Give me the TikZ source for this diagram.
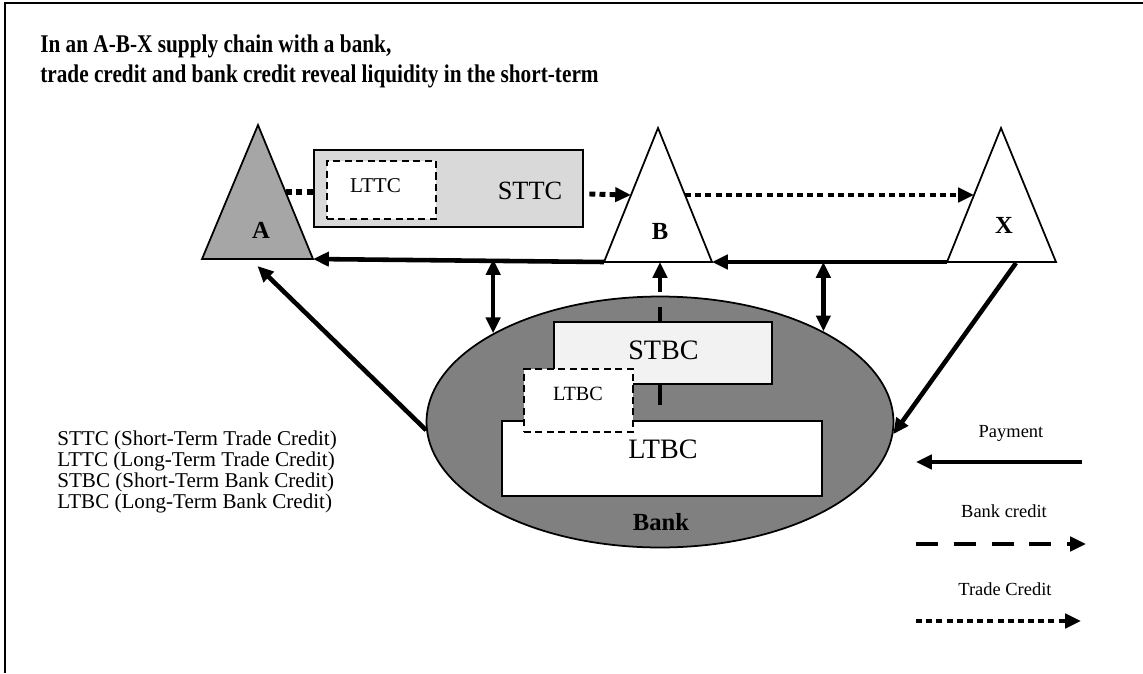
\documentclass[tikz,border=0pt]{standalone}
\usepackage{fontspec}
\setmainfont{Liberation Serif}
\usetikzlibrary{arrows.meta,shapes.geometric,calc,positioning}

\definecolor{supgray}{HTML}{A6A6A6}
\definecolor{sttcgray}{HTML}{D9D9D9}
\definecolor{bankgray}{HTML}{808080}
\definecolor{stbcgray}{HTML}{F2F2F2}

\tikzset{
  supplier/.style={draw, line width=1pt, line join=miter},
  creditbox/.style={draw, line width=1.2pt, inner sep=0pt},
  ltbox/.style={creditbox, fill=white, dashed, dash pattern=on 4pt off 2.5pt},
  boxlabel/.style={inner sep=0pt, font=\fontsize{15}{15}\selectfont},
  smalllabel/.style={inner sep=0pt, font=\fontsize{12}{12}\selectfont},
  keylabel/.style={inner sep=0pt, anchor=base, font=\fontsize{10.5}{10.5}\selectfont},
  firmlabel/.style={inner sep=0pt, font=\fontsize{14}{14}\selectfont\bfseries},
  payment/.style={line width=2.6pt, -{Triangle[length=9pt,width=8pt]}},
  payboth/.style={line width=2.6pt, {Triangle[length=9pt,width=8pt]}-{Triangle[length=9pt,width=8pt]}},
  tradecredit/.style={line width=2.8pt, dash pattern=on 3.4pt off 2.4pt, -{Triangle[length=9pt,width=8pt]}},
  bankcredit/.style={line width=2.8pt, dash pattern=on 12.5pt off 9pt, -{Triangle[length=9pt,width=8pt]}},
}

\begin{document}
\begin{tikzpicture}[x=0.02cm, y=-0.02cm]
\useasboundingbox (0,0) rectangle (1143,673);
\draw[line width=1.2pt] (5,673) -- (5,3) -- (1143,3);

% title
\node[anchor=base west, inner sep=0pt, align=left, xscale=0.835,
      font=\fontsize{14.5}{17}\selectfont\bfseries] (title) at (40,82)
  {In an A-B-X supply chain with a bank,\\
   trade credit and bank credit reveal liquidity in the short-term};

% supply chain firms
\coordinate (A-top) at (258,125);
\coordinate (A-left) at (202,259);
\coordinate (A-right) at (313,259);
\coordinate (B-top) at (658,128);
\coordinate (B-left) at (604,262);
\coordinate (B-right) at (712,262);
\coordinate (X-top) at (1001,128);
\coordinate (X-left) at (947,262);
\coordinate (X-right) at (1056,262);
\draw[supplier, fill=supgray] (A-left) -- (A-top) -- (A-right) -- cycle;
\draw[supplier, fill=white] (B-left) -- (B-top) -- (B-right) -- cycle;
\draw[supplier, fill=white] (X-left) -- (X-top) -- (X-right) -- cycle;
\node[firmlabel] (A) at (261,230) {A};
\node[firmlabel] (B) at (660,231) {B};
\node[firmlabel] (X) at (1004,225) {X};

% trade credit between firms
\node[creditbox, fill=sttcgray, minimum width=5.38cm, minimum height=1.54cm] (sttc) at (448.5,188.5) {};
\node[ltbox, minimum width=2.18cm, minimum height=1.16cm] (lttc) at (381.5,190) {};
\node[smalllabel] (lttc-text) at (375.5,185.5) {LTTC};
\node[boxlabel] (sttc-text) at (530,190.5) {STTC};

\coordinate (A-side) at ($(A-top)!0.5!(A-right)$);
\draw[line width=3pt, dash pattern=on 3.6pt off 2.4pt] (A-side) -- (A-side -| sttc.west);
\draw[tradecredit] ([xshift=3pt]sttc.east |- 0,194) -- ($(B-top)!0.5!(B-left)$);
\draw[tradecredit] ($(B-top)!0.5!(B-right)$) -- ($(X-top)!0.5!(X-left)$);

% payments along the chain
\draw[payment] (X-left) -- (B-right);
\draw[payment] (B-left) -- (A-right);

% bank
\node[ellipse, draw, line width=1pt, fill=bankgray, minimum width=9.34cm, minimum height=5.02cm] (bank) at (660,422) {};
\coordinate (bc-start) at (660,405);
\draw[bankcredit] (bc-start) -- (bc-start |- B-left);
\node[creditbox, fill=stbcgray, minimum width=4.36cm, minimum height=1.24cm] (stbc) at (663,353) {};
\node[creditbox, fill=white, minimum width=6.4cm, minimum height=1.5cm] (ltbc) at (662,458.5) {};
\node[ltbox, minimum width=2.18cm, minimum height=1.26cm] (ltbc-short) at (578.5,400.5) {};
\node[boxlabel, font=\fontsize{16}{16}\selectfont] (stbc-text) at (663.5,350) {STBC};
\node[boxlabel, font=\fontsize{16}{16}\selectfont] (ltbc-text) at (663,449) {LTBC};
\node[smalllabel, font=\fontsize{11.5}{11.5}\selectfont] (ltbc-short-text) at (578,394) {LTBC};
\node[firmlabel] (bank-text) at (661,522) {Bank};

\draw[payboth] (bank.152) -- (bank.152 |- A-right);
\draw[payboth] (bank.29) -- (bank.29 |- X-left);
\draw[payment] (bank.182) -- ([yshift=-4pt]$(A-left)!0.5!(A-right)$);
\coordinate (X-foot) at (1016,263);
\draw[payment] (X-foot) -- (bank.357);

% abbreviations
\node[anchor=base west, inner sep=0pt, align=left, font=\fontsize{12}{10.4}\selectfont] (abbrev) at (57,508)
  {STTC (Short-Term Trade Credit)\\
   LTTC (Long-Term Trade Credit)\\
   STBC (Short-Term Bank Credit)\\
   LTBC (Long-Term Bank Credit)};

% key
\node[keylabel] (key-pay) at (1011,437) {Payment};
\node[keylabel] (key-bank) at (1004,517) {Bank credit};
\node[keylabel] (key-trade) at (1005,595) {Trade Credit};
\coordinate (pay-from) at (1082,462);
\coordinate (pay-to) at (916,462);
\coordinate (bank-from) at (916,544);
\coordinate (bank-to) at (1086,544);
\coordinate (trade-from) at (916,621);
\coordinate (trade-to) at (1081,621);
\draw[payment] (pay-from) -- (pay-to);
\draw[bankcredit] (bank-from) -- (bank-to);
\draw[tradecredit] (trade-from) -- (trade-to);
\end{tikzpicture}
\end{document}
